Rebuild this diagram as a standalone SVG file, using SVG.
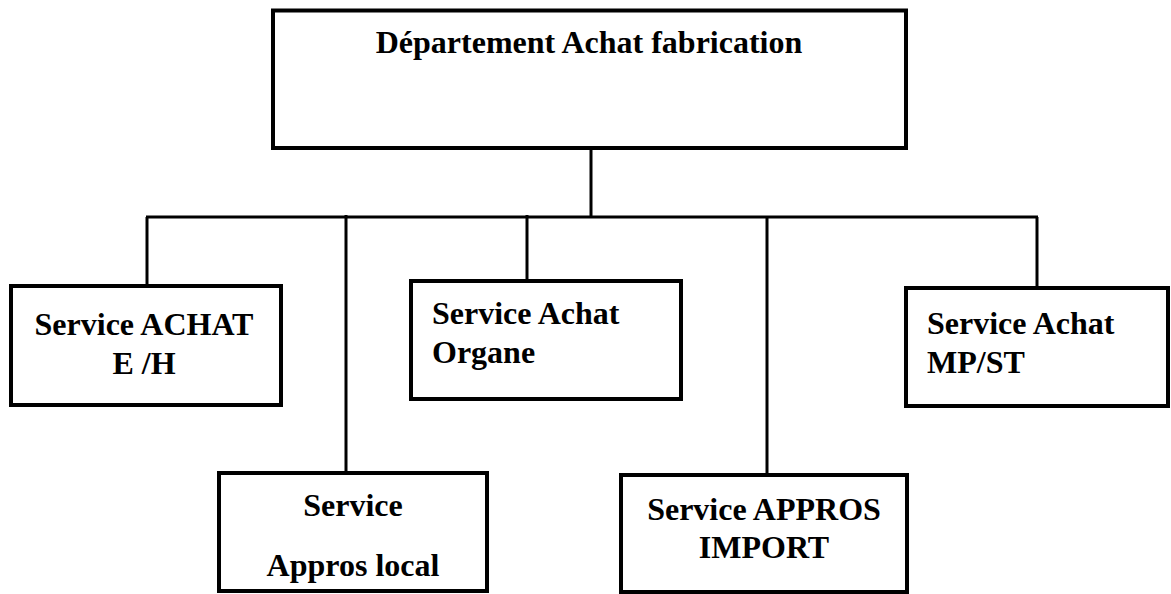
<svg xmlns="http://www.w3.org/2000/svg" width="1171" height="594" viewBox="0 0 1171 594">
<style>
.box{fill:#fff;stroke:#000;stroke-width:4}
.ln{stroke:#000;stroke-width:3;fill:none}
text{font-family:"Liberation Serif","Times New Roman",serif;font-weight:bold;font-size:32px;fill:#000}
.c{text-anchor:middle}
</style>
<rect width="1171" height="594" fill="#fff"/>
<g id="connectors">
<line class="ln" x1="591" y1="148" x2="591" y2="217"/>
<line class="ln" x1="146" y1="217" x2="1038" y2="217"/>
<line class="ln" x1="147" y1="217" x2="147" y2="286"/>
<line class="ln" x1="346" y1="215" x2="346" y2="473"/>
<line class="ln" x1="527" y1="215" x2="527" y2="281"/>
<line class="ln" x1="767" y1="217" x2="767" y2="475"/>
<line class="ln" x1="1037" y1="217" x2="1037" y2="288"/>
</g>
<g id="dept">
<rect class="box" x="273" y="10.5" width="633" height="137.5"/>
<text class="c" x="589" y="53">Département Achat fabrication</text>
</g>
<g id="achat-eh">
<rect class="box" x="11" y="286" width="270" height="119"/>
<text class="c" x="144" y="335">Service ACHAT</text>
<text class="c" x="144" y="374">E /H</text>
</g>
<g id="achat-organe">
<rect class="box" x="411" y="281" width="270" height="118"/>
<text x="432" y="324">Service Achat</text>
<text x="432" y="363">Organe</text>
</g>
<g id="achat-mpst">
<rect class="box" x="906" y="288" width="262" height="118"/>
<text x="927" y="334">Service Achat</text>
<text x="927" y="373">MP/ST</text>
</g>
<g id="appros-local">
<rect class="box" x="219" y="473" width="268" height="118"/>
<text class="c" x="353" y="516">Service</text>
<text class="c" x="353" y="576">Appros local</text>
</g>
<g id="appros-import">
<rect class="box" x="621" y="475" width="286" height="117"/>
<text class="c" x="764" y="520">Service APPROS</text>
<text class="c" x="764" y="558">IMPORT</text>
</g>
</svg>
